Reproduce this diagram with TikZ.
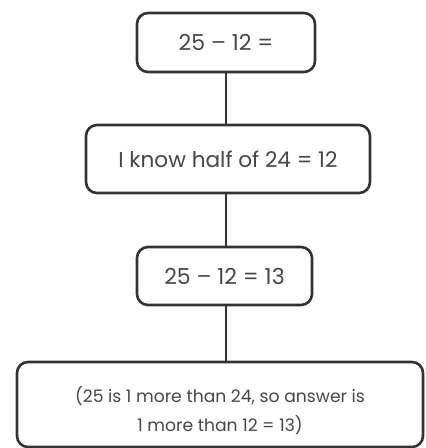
\documentclass[tikz,border=0pt]{standalone}
\usepackage{fontspec}
\setmainfont{Poppins}
\definecolor{ink}{HTML}{474747}
\definecolor{edge}{HTML}{333333}
\begin{document}
\begin{tikzpicture}[x=1pt,y=-1pt,
  box/.style={draw=edge, line width=2.6pt, rounded corners=11pt, fill=white,
    inner sep=0pt, text=ink, align=center},
  link/.style={draw=edge, line width=2.6pt}]
\useasboundingbox[fill=white] (0,0) rectangle (426,448);
\node[box, minimum width=178pt, minimum height=59pt, font=\fontsize{22}{26}\selectfont] (b1) at (226,42.5) {25 – 12 =};
\node[box, minimum width=284pt, minimum height=68pt, font=\fontsize{21.6}{26}\selectfont] (b2) at (228,159) {I know half of 24 = 12};
\node[box, minimum width=175pt, minimum height=58pt, font=\fontsize{22}{26}\selectfont] (b3) at (224.5,276) {25 – 12 = 13};
\node[box, minimum width=406pt, minimum height=85pt, font=\fontsize{17.2}{29}\selectfont] (b4) at (220,404.5) {\raisebox{-6pt}[\height][\depth]{\parbox{400pt}{\centering (25 is 1 more than 24, so answer is\\1 more than 12 = 13)}}};
\draw[link] (b1.south) -- (b1.south |- b2.north);
\draw[link] (b2.south -| b1.south) -- (b1.south |- b3.north);
\draw[link] (b3.south -| b1.south) -- (b1.south |- b4.north);
\end{tikzpicture}
\end{document}
